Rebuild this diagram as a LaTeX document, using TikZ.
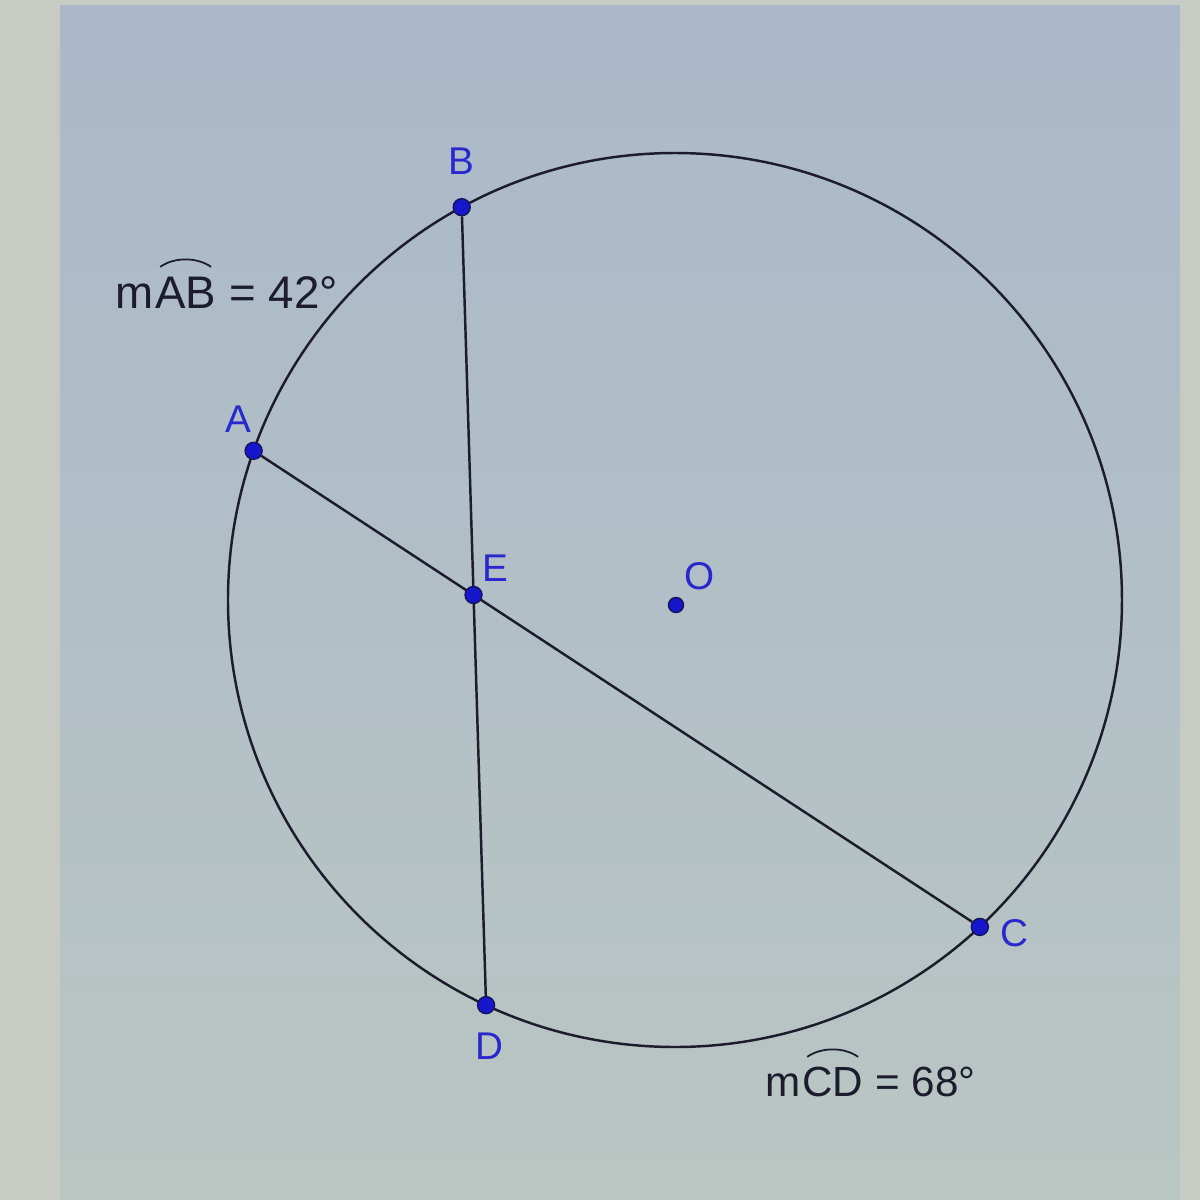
\documentclass[tikz,border=0pt]{standalone}
\usepackage{amsmath,amssymb}
\usepackage{fontspec}
\setmainfont{Liberation Sans}
\usetikzlibrary{positioning,backgrounds}

\definecolor{screen}{RGB}{170,184,202}
\definecolor{screenlow}{RGB}{186,198,194}
\definecolor{frame}{RGB}{200,203,196}
\definecolor{ptblue}{RGB}{22,22,205}
\definecolor{ptedge}{RGB}{20,20,90}
\definecolor{lblblue}{RGB}{40,40,205}
\definecolor{ink}{RGB}{28,28,45}

\begin{document}
\begin{tikzpicture}[
  pt/.style={circle, fill=ptblue, draw=ptedge, line width=0.4pt, inner sep=0pt, minimum size=0.17cm},
  lbl/.style={text=lblblue, inner sep=1pt, font=\fontsize{11}{13}\selectfont},
  arcm/.style={text=ink, inner sep=0pt, anchor=base west, font=\fontsize{13}{15}\selectfont},
  hat/.style={draw=ink, line width=0.5pt, shorten <=2pt, shorten >=2pt},
  chord/.style={draw=ink, line width=0.7pt}]
\def \radius {4.47cm}

\useasboundingbox (-6.75,-6) rectangle (5.25,6);

\draw[chord] (0,0) circle (\radius);

\node[pt] at ({160.5}:\radius) (A) {};
\node[pt] at ({118.5}:\radius) (B) {};
\node[pt] at ({-47}:\radius) (C) {};
\node[pt] at ({-115}:\radius) (D) {};
\node[pt] at (intersection of A.center--C.center and B.center--D.center) (E) {};
\node[pt, minimum size=0.15cm] at (0.01,-0.05) (O) {};

\begin{scope}[on background layer]
\fill[frame] (-6.75,-6) rectangle (5.25,6);
\shade[top color=screen, bottom color=screenlow] (-6.15,-6) rectangle (5.05,5.95);
\draw[chord] (A) -- (C);
\draw[chord] (B) -- (D);
\end{scope}

\node[lbl, above=0.05cm of A, xshift=-0.15cm] (lA) {A};
\node[lbl, above=0.19cm of B] (lB) {B};
\node[lbl, right=0.07cm of C, yshift=-0.06cm] (lC) {C};
\node[lbl, below=0.14cm of D, xshift=0.03cm] (lD) {D};
\node[lbl, above=0cm of E, xshift=0.22cm] (lE) {E};
\node[lbl, above=0.03cm of O, xshift=0.24cm] (lO) {O};

% arc measures
\node[arcm] at (-5.6,2.92) (mAB) {m};
\node[arcm] at (mAB.base east) (AB) {AB};
\node[arcm] at ([xshift=0.12cm]AB.base east) (vAB) {= 42°};
\draw[hat] ([yshift=0.05cm]AB.north west) to[bend left=35] ([yshift=0.05cm]AB.north east);

\node[arcm, font=\fontsize{12}{14}\selectfont] at (0.9,-4.96) (mCD) {m};
\node[arcm, font=\fontsize{12}{14}\selectfont] at (mCD.base east) (CD) {CD};
\node[arcm, font=\fontsize{12}{14}\selectfont] at ([xshift=0.11cm]CD.base east) (vCD) {= 68°};
\draw[hat] ([yshift=0.05cm]CD.north west) to[bend left=35] ([yshift=0.05cm]CD.north east);

\end{tikzpicture}
\end{document}
